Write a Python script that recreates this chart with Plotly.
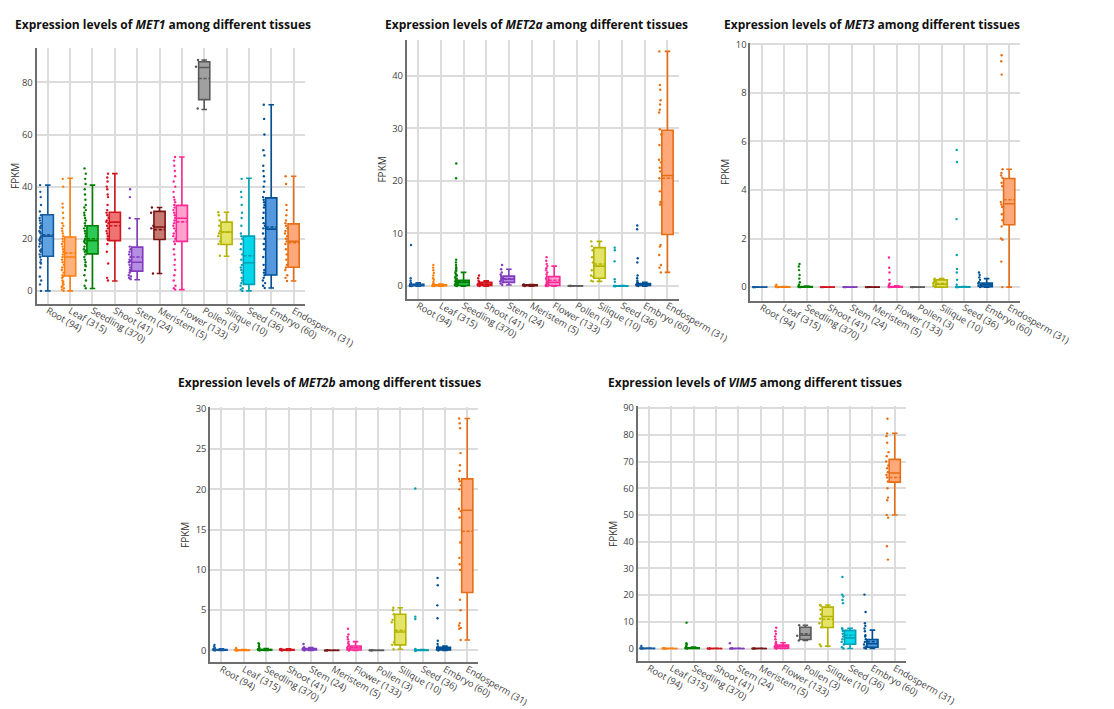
import plotly.graph_objects as go

# tissues and sample counts, same order in every panel
TISSUES = ["Root (94)", "Leaf (315)", "Seedling (370)", "Shoot (41)", "Stem (24)",
           "Meristem (5)", "Flower (133)", "Pollen (3)", "Silique (10)", "Seed (36)",
           "Embryo (60)", "Endosperm (31)"]

LINE_COLORS = ["rgb(20,90,160)", "rgb(255,127,14)", "rgb(0,128,0)", "rgb(210,20,30)",
               "rgb(130,60,190)", "rgb(120,20,20)", "rgb(255,40,150)", "rgb(90,90,90)",
               "rgb(180,180,0)", "rgb(0,160,180)", "rgb(0,80,150)", "rgb(230,110,20)"]
FILL_COLORS = ["rgb(95,162,225)", "rgb(255,178,125)", "rgb(45,200,85)", "rgb(240,115,115)",
               "rgb(182,142,225)", "rgb(200,122,112)", "rgb(255,162,205)", "rgb(160,160,160)",
               "rgb(228,228,105)", "rgb(0,215,235)", "rgb(85,152,222)", "rgb(255,168,122)"]

# ---- MET1 ----
MET1_Q1 = [13.3, 5.7, 14.2, 19.3, 7.6, 19.7, 19.0, 73.4, 17.8, 2.5, 6.1, 9.1]
MET1_MED = [21.0, 13.0, 19.3, 26.4, 11.0, 24.5, 27.9, 85.7, 22.6, 10.8, 23.7, 19.0]
MET1_Q3 = [29.2, 20.7, 25.0, 30.2, 16.8, 30.5, 32.8, 87.9, 26.4, 21.0, 35.7, 25.7]
MET1_LO = [0, 0, 0.9, 3.8, 4.3, 6.7, 0.5, 69.6, 13.3, 0, 1.1, 3.8]
MET1_HI = [40.6, 43.2, 40.6, 45.0, 27.7, 32.0, 51.4, 88.6, 30.2, 43.2, 71.4, 44.0]
MET1_MEAN = [21.5, 14.5, 20.0, 25.0, 13.0, 23.5, 26.5, 81.5, 22.5, 13.5, 24.5, 18.5]
MET1_PTS = [
    [0, 2.5, 4, 5.5, 9, 10.5, 11, 12, 13, 14, 15, 15.5, 16, 17, 18, 18.5, 19, 19.5, 20,
     20.5, 21, 22, 22.5, 23, 24, 24.5, 25, 26, 27, 28, 29, 30.5, 33, 36, 38, 40.6],
    [0, 0.5, 1, 1.5, 2, 2.5, 3, 3.5, 4, 5, 5.5, 6, 7, 8, 9, 10, 11, 12, 13, 14, 15, 16,
     17, 18, 19, 20, 21, 22, 23, 24, 25, 26, 28, 30, 32, 33.5, 40, 43],
    [1, 2, 4, 6, 8, 9.5, 10, 11, 12, 13, 14, 15, 15.5, 16, 17, 18, 18.5, 19, 19.5, 20, 21,
     22, 23, 24, 25, 26, 27, 28, 29, 30, 31, 32, 33, 35, 37, 39, 41, 43, 45, 47],
    [4, 5, 10.5, 15, 18, 19.5, 20, 21, 22, 23, 24, 25, 26, 26.5, 27, 28, 29, 30, 31, 33,
     36, 37, 39, 40, 42, 43.5, 45],
    [4.5, 5, 5.5, 6, 7, 7.5, 8, 9, 10, 11, 11.5, 12, 13, 14, 15, 16, 17, 24, 28, 36, 39],
    [6.7, 24, 25, 30, 32],
    [0.5, 1, 2, 4, 6, 8, 10, 12, 14, 16, 18, 19, 20, 21, 22, 23, 24, 25, 26, 27, 28, 29,
     30, 31, 32, 33, 34, 35, 36, 38, 40, 42, 44, 46, 48, 50, 51.4],
    [70, 86, 88.6],
    [13.5, 18, 19, 21, 22, 23, 25, 27, 29, 30.2],
    [0, 0.5, 1, 2, 3, 4, 5, 7, 8, 9, 10, 12, 14, 16, 18, 20, 21, 22, 25, 28, 30, 33, 36,
     38, 43],
    [1.1, 2, 3, 4, 5, 6, 7, 8, 10, 13, 16, 18, 20, 22, 24, 25, 26, 28, 30, 32, 33, 34, 35,
     36, 38, 40, 42, 44, 46, 48, 52, 54, 60, 66, 71.4],
    [3.8, 5, 6, 8, 9, 10, 12, 14, 16, 18, 19, 20, 21, 22, 23, 24, 25, 26, 27, 29, 31, 33,
     41, 44],
]

# ---- MET2a ----
MET2A_Q1 = [0.05, 0.05, 0.1, 0.1, 0.7, 0.05, 0.1, 0.02, 1.5, 0, 0.1, 9.8]
MET2A_MED = [0.15, 0.1, 0.7, 0.3, 1.3, 0.15, 0.7, 0.03, 3.8, 0.02, 0.25, 21.0]
MET2A_Q3 = [0.35, 0.25, 1.1, 0.7, 1.9, 0.25, 1.8, 0.05, 7.3, 0.05, 0.5, 29.6]
MET2A_LO = [0, 0, 0, 0, 0.2, 0, 0, 0.02, 0.9, 0, 0, 2.6]
MET2A_HI = [0.6, 0.4, 2.6, 1.0, 3.2, 0.3, 3.8, 0.05, 8.5, 0.1, 0.7, 44.6]
MET2A_MEAN = [0.3, 0.2, 0.9, 0.4, 1.4, 0.15, 1.1, 0.03, 4.2, 0.04, 0.4, 20.5]
MET2A_PTS = [
    [0, 0, 0.05, 0.1, 0.1, 0.15, 0.2, 0.2, 0.3, 0.3, 0.4, 0.5, 0.6, 1.0, 1.5, 7.8],
    [0, 0, 0.05, 0.1, 0.1, 0.15, 0.2, 0.25, 0.3, 0.4, 0.5, 0.8, 1.2, 1.5, 2.0, 2.5, 3.0,
     3.5, 4.0],
    [0, 0.1, 0.2, 0.3, 0.4, 0.5, 0.6, 0.7, 0.8, 0.9, 1.0, 1.2, 1.4, 1.6, 1.8, 2.0, 2.2,
     2.5, 2.8, 3.0, 3.3, 3.6, 4.0, 4.5, 5.0, 20.5, 23.3],
    [0, 0.1, 0.2, 0.3, 0.4, 0.5, 0.6, 0.8, 1.0, 1.5, 2.0],
    [0.2, 0.5, 0.7, 0.9, 1.1, 1.3, 1.5, 1.7, 1.9, 2.2, 2.6, 3.2, 4.0],
    [0, 0.1, 0.15, 0.2, 0.3],
    [0, 0, 0.1, 0.2, 0.3, 0.5, 0.7, 0.9, 1.2, 1.5, 1.8, 2.2, 2.6, 3.0, 3.4, 3.8, 4.2, 4.8,
     5.5],
    [0.02, 0.03, 0.05],
    [0.9, 1.0, 1.8, 2.0, 3.0, 4.5, 5.5, 6.8, 7.6, 8.5],
    [0, 0, 0, 0, 0, 0, 0.05, 0.8, 1.3, 4.7, 6.8, 7.3],
    [0, 0.1, 0.2, 0.3, 0.4, 0.5, 0.6, 0.7, 1.0, 1.5, 2.0, 4.5, 5.3, 10.8, 11.5],
    [2.6, 3.5, 4.0, 5.9, 7.5, 7.8, 15.5, 16, 18, 20.5, 21.8, 22.5, 23.5, 24, 26.8, 28.8,
     29.8, 33, 33.5, 34.5, 35.3, 37.3, 38.2, 44.6],
]

# ---- MET3 ----
MET3_Q1 = [0, 0, 0, 0, 0, 0, 0, 0, 0, 0, 0.02, 2.57]
MET3_MED = [0, 0, 0, 0, 0, 0, 0, 0, 0.12, 0, 0.1, 3.43]
MET3_Q3 = [0, 0.01, 0.02, 0, 0, 0, 0.02, 0, 0.3, 0.01, 0.17, 4.47]
MET3_LO = [0, 0, 0, 0, 0, 0, 0, 0, 0, 0, 0, 0]
MET3_HI = [0, 0.02, 0.04, 0, 0, 0, 0.05, 0, 0.35, 0.02, 0.35, 4.85]
MET3_MEAN = [0, 0.005, 0.01, 0, 0, 0, 0.01, 0, 0.15, 0.005, 0.12, 3.6]
MET3_PTS = [
    [0, 0, 0, 0, 0],
    [0, 0, 0, 0.05, 0.1],
    [0, 0, 0, 0.05, 0.1, 0.2, 0.35, 0.5, 0.7, 0.85, 0.95],
    [0, 0, 0],
    [0, 0, 0],
    [0, 0, 0],
    [0, 0, 0, 0.05, 0.1, 0.15, 0.3, 0.6, 0.8, 1.22],
    [0, 0, 0],
    [0, 0.05, 0.1, 0.15, 0.2, 0.25, 0.3, 0.35],
    [0, 0, 0, 0, 0.1, 0.3, 0.6, 0.75, 1.32, 2.8, 5.15, 5.65],
    [0, 0.05, 0.1, 0.15, 0.2, 0.3, 0.4, 0.5, 0.6],
    [0, 1.05, 1.95, 2.0, 2.5, 2.75, 3.0, 3.3, 3.4, 3.5, 4.15, 4.3, 4.5, 4.6, 4.7, 4.85,
     8.75, 9.3, 9.55],
]

# ---- MET2b ----
MET2B_Q1 = [0.02, 0, 0.02, 0.02, 0.05, 0, 0.05, 0, 0.7, 0, 0.05, 7.2]
MET2B_MED = [0.05, 0.02, 0.05, 0.05, 0.15, 0.01, 0.3, 0.01, 2.3, 0.02, 0.2, 17.4]
MET2B_Q3 = [0.12, 0.05, 0.12, 0.1, 0.25, 0.02, 0.55, 0.02, 4.5, 0.05, 0.4, 21.3]
MET2B_LO = [0, 0, 0, 0, 0, 0, 0, 0, 0.15, 0, 0, 1.3]
MET2B_HI = [0.2, 0.1, 0.25, 0.2, 0.35, 0.03, 1.1, 0.03, 5.3, 0.1, 0.55, 28.8]
MET2B_MEAN = [0.08, 0.02, 0.1, 0.08, 0.17, 0.02, 0.4, 0.02, 2.5, 0.03, 0.3, 14.8]
MET2B_PTS = [
    [0, 0.05, 0.1, 0.15, 0.2, 0.3, 0.5, 0.7],
    [0, 0, 0.05, 0.1, 0.3],
    [0, 0.05, 0.1, 0.15, 0.2, 0.3, 0.5, 0.7, 0.9],
    [0, 0.05, 0.1, 0.15, 0.2],
    [0, 0.1, 0.15, 0.2, 0.3, 0.4, 0.8],
    [0, 0, 0.02],
    [0, 0.1, 0.2, 0.3, 0.5, 0.7, 0.9, 1.1, 1.4, 1.7, 2.0, 2.7],
    [0, 0.02, 0.03],
    [0.15, 0.7, 1.0, 3.5, 3.8, 4.5, 5.0, 5.3],
    [0, 0, 0, 0, 0.05, 0.2, 3.9, 4.2, 20.1],
    [0, 0.1, 0.2, 0.3, 0.4, 0.5, 0.8, 1.2, 4.0, 5.6, 8.1, 9.0],
    [1.3, 2.7, 2.8, 3.1, 3.4, 5.0, 6.3, 10.0, 10.7, 11.5, 13.4, 16.5, 17.3, 17.6, 20.0,
     20.5, 21.0, 21.3, 22.3, 23.0, 24.5, 27.6, 28.2, 28.8],
]

# ---- VIM5 ----
VIM5_Q1 = [0, 0, 0, 0, 0, 0, 0.1, 3.4, 7.9, 1.6, 0.5, 62.3]
VIM5_MED = [0.05, 0.02, 0.1, 0.02, 0.02, 0.02, 0.8, 5.0, 12.0, 4.0, 1.8, 65.7]
VIM5_Q3 = [0.1, 0.05, 0.3, 0.05, 0.05, 0.05, 1.3, 8.0, 15.5, 6.8, 3.4, 70.8]
VIM5_LO = [0, 0, 0, 0, 0, 0, 0, 3.0, 0.9, 0, 0, 50.0]
VIM5_HI = [0.2, 0.1, 0.6, 0.1, 0.1, 0.1, 2.2, 8.7, 16.3, 7.6, 6.9, 80.6]
VIM5_MEAN = [0.05, 0.02, 0.2, 0.02, 0.03, 0.02, 0.9, 5.5, 11.0, 5.0, 2.6, 64.0]
VIM5_PTS = [
    [0, 0, 0.1, 0.2, 1.0],
    [0, 0, 0.05, 0.1],
    [0, 0.1, 0.3, 0.5, 1.0, 1.5, 2.0, 9.7],
    [0, 0, 0.05],
    [0, 0, 0.1, 2.0],
    [0, 0, 0.05],
    [0, 0.2, 0.5, 0.8, 1.2, 1.6, 2.0, 2.5, 3.5, 4.5, 5.5, 6.5, 7.8],
    [3.0, 4.8, 8.7],
    [0.9, 1.5, 8.0, 9.5, 11.2, 12.8, 14.5, 16.0, 16.3],
    [0, 0.5, 1.5, 2.5, 3.5, 4.5, 5.5, 6.5, 7.0, 7.6, 17.0, 18.2, 19.5, 20.2, 26.8],
    [0, 0.3, 0.8, 1.5, 2.5, 3.5, 4.5, 5.0, 6.5, 7.5, 8.5, 9.5, 13.7, 20.2],
    [33.3, 38.3, 49, 50, 55.5, 56.5, 60, 62.5, 64, 65, 66, 67.5, 68.5, 70, 72, 73.5, 77,
     79.5, 80.5, 86],
]

W, H = 1114, 709
TICK_FONT = dict(family="Open Sans", size=9.4, color="#444")

# gene, stats, pixel box of the plot area (left, right, top, bottom), y range, dtick, title pos
PANELS = [
    ("MET1", (MET1_Q1, MET1_MED, MET1_Q3, MET1_LO, MET1_HI, MET1_MEAN, MET1_PTS),
     (30, 311, 35, 293), [-5, 93.3], 20, (5, 12)),
    ("MET2a", (MET2A_Q1, MET2A_MED, MET2A_Q3, MET2A_LO, MET2A_HI, MET2A_MEAN, MET2A_PTS),
     (418, 703, 27, 288), [-2.45, 46.8], 10, (393, 12)),
    ("MET3", (MET3_Q1, MET3_MED, MET3_Q3, MET3_LO, MET3_HI, MET3_MEAN, MET3_PTS),
     (778, 1061, 30, 290), [-0.57, 10.06], 2, (748, 12)),
    ("MET2b", (MET2B_Q1, MET2B_MED, MET2B_Q3, MET2B_LO, MET2B_HI, MET2B_MEAN, MET2B_PTS),
     (212, 493, 397, 654), [-1.48, 30.2], 5, (176, 372)),
    ("VIM5", (VIM5_Q1, VIM5_MED, VIM5_Q3, VIM5_LO, VIM5_HI, VIM5_MEAN, VIM5_PTS),
     (660, 941, 396, 653), [-4.8, 90.7], 10, (627, 372)),
]

fig = go.Figure()
layout = dict(
    width=W, height=H,
    margin=dict(l=0, r=0, t=0, b=0),
    paper_bgcolor="white", plot_bgcolor="white",
    showlegend=False, boxmode="overlay",
    font=dict(family="Open Sans", size=9.4, color="#444"),
    annotations=[],
)

for n, (gene, stats, box, yrange, dtick, tpos) in enumerate(PANELS, start=1):
    q1, med, q3, lo, hi, mean, pts = stats
    xa = "x" if n == 1 else "x%d" % n
    ya = "y" if n == 1 else "y%d" % n
    for i, cat in enumerate(TISSUES):
        # box drawn from the read-off statistics
        fig.add_trace(go.Box(
            x=[cat], q1=[q1[i]], median=[med[i]], q3=[q3[i]],
            lowerfence=[lo[i]], upperfence=[hi[i]], mean=[mean[i]],
            boxmean=True, boxpoints=False, width=0.5, whiskerwidth=0.5,
            line=dict(color=LINE_COLORS[i], width=1.6), fillcolor=FILL_COLORS[i],
            xaxis=xa, yaxis=ya, hoverinfo="skip"))
        # sample points beside the box
        fig.add_trace(go.Box(
            x=[cat] * len(pts[i]), y=pts[i], boxpoints="all", jitter=0.25, pointpos=-1.3,
            width=0.5, line=dict(color=LINE_COLORS[i], width=0),
            fillcolor="rgba(0,0,0,0)",
            marker=dict(color=LINE_COLORS[i], size=2.4),
            xaxis=xa, yaxis=ya, hoverinfo="skip"))

    left, right, top, bottom = box
    key = "" if n == 1 else str(n)
    layout["xaxis" + key] = dict(
        domain=[left / W, right / W], anchor=ya,
        type="category", categoryorder="array", categoryarray=TISSUES,
        range=[-0.5, 11.5], showgrid=True, gridcolor="#dcdcdc", gridwidth=1.5,
        showline=True, linecolor="#6e6e6e", linewidth=2, ticks="",
        tickangle=30, tickfont=TICK_FONT, ticklabelstandoff=-4)
    layout["yaxis" + key] = dict(
        domain=[1 - bottom / H, 1 - top / H], anchor=xa,
        range=yrange, dtick=dtick, tick0=0, showgrid=True, gridcolor="#dcdcdc",
        gridwidth=1.5, zeroline=False, showline=True, linecolor="#6e6e6e", linewidth=2,
        ticks="", tickfont=TICK_FONT,
        title=dict(text="FPKM", font=dict(family="Open Sans", size=10, color="#333"),
                   standoff=4))
    layout["annotations"].append(dict(
        text="<b>Expression levels of <i>%s</i> among different tissues</b>" % gene,
        xref="paper", yref="paper", x=tpos[0] / W, y=1 - tpos[1] / H,
        xanchor="left", yanchor="middle", showarrow=False,
        font=dict(family="Open Sans", size=12, color="#111")))

fig.update_layout(**layout)
fig.write_html("out.html")
